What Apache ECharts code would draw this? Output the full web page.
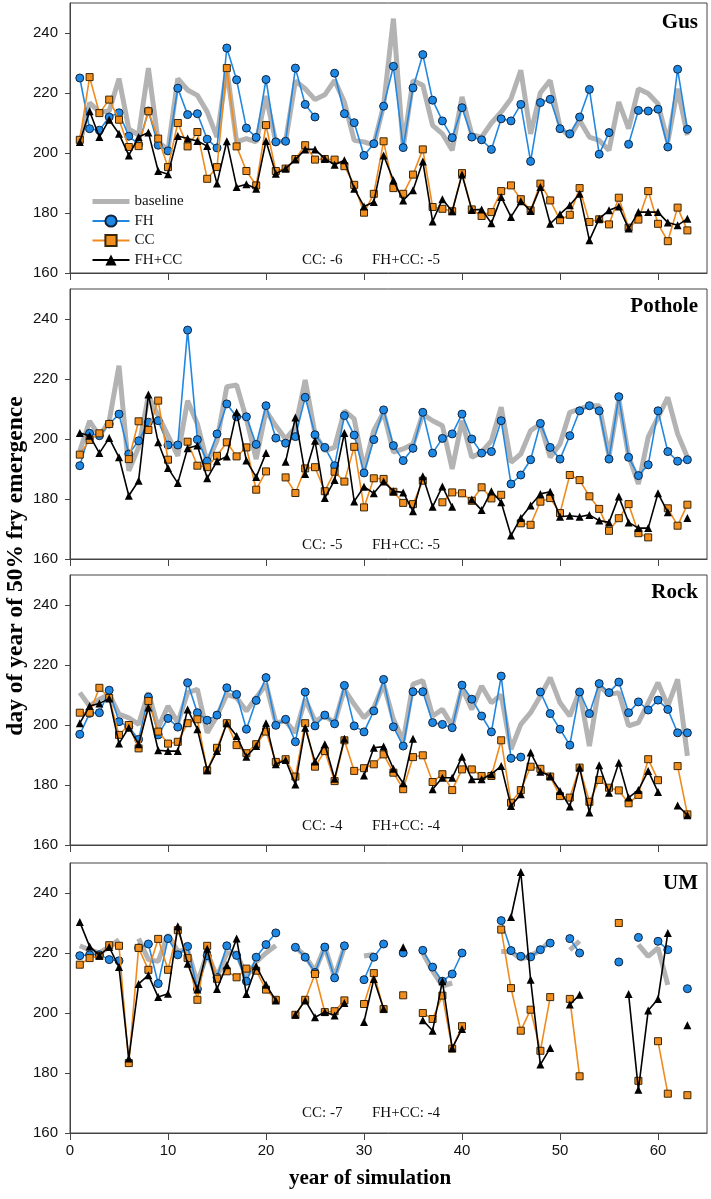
<!DOCTYPE html>
<html><head><meta charset="utf-8">
<script src="https://cdn.jsdelivr.net/npm/echarts@6/dist/echarts.min.js"></script>
<style>html,body{margin:0;padding:0;background:#fff}#c{width:711px;height:1199px}</style>
</head><body><div id="c"></div>
<script>
const years = [1,2,3,4,5,6,7,8,9,10,11,12,13,14,15,16,17,18,19,20,21,22,23,24,25,26,27,28,29,30,31,32,33,34,35,36,37,38,39,40,41,42,43,44,45,46,47,48,49,50,51,52,53,54,55,56,57,58,59,60,61,62,63];
const xTicks = [0,10,20,30,40,50,60];
const yTicks = [160,180,200,220,240];
const panelNames = ['Gus','Pothole','Rock','UM'];
const ccNotes = ['CC: -6','CC: -5','CC: -4','CC: -7'];
const fhccNotes = ['FH+CC: -5','FH+CC: -5','FH+CC: -4','FH+CC: -4'];

// ---- Gus ----
const gusBase = [203,216.7,213.7,214,224.8,208,206,228.3,203.7,201,224.8,221,219.2,213.7,205.3,228,203.7,204.8,203.7,219,203.7,204,224,221.4,217.8,219.4,224.2,217,204.2,203.7,202.6,215.9,244.8,202,224.2,222.6,209.2,206.4,200.9,218.7,206.1,205.3,210,213.7,218.1,227.6,206.4,220.1,224.2,208.7,205.3,210.9,205.3,204.2,200.9,217,208.1,221.4,219.8,216.4,203.7,221.4,205.9];
const gusFH = [225,208.1,207.6,212,213.4,205.6,202.9,214,202.6,200.7,221.6,212.8,213.1,204.6,201.7,235,224.4,208.3,205.2,224.5,203.7,203.9,228.3,216.2,212,null,226.6,213.1,210.1,199.2,203.1,215.6,228.9,201.8,221.7,232.8,217.6,210.7,205.1,215.1,205.3,204.4,201.2,211.4,210.7,216.2,197.2,216.8,217.9,208.1,206.4,212,221.2,199.6,206.8,null,202.9,214.2,214,214.6,202,227.9,207.9];
const gusCC = [204.4,225.3,213.3,217.8,211.1,202,202.3,213.9,204.8,195.3,210,202.2,207,191.4,195.3,228.3,202.2,194,189.2,209.3,194,194.8,198,202.6,197.8,198,197.8,195.6,189.4,180.1,186.4,203.9,188.3,186.4,192.8,201.2,182,181.4,180.6,193.3,181.2,179,180.3,187.3,189.2,184.6,180.9,189.8,184.2,177.6,179.4,188.3,177,177.9,176.2,185.1,175.1,177.8,187.3,176.4,170.6,181.8,174.2];
const gusFHCC = [203.7,213.9,205.3,211.1,206.4,199.2,205.3,206.8,194,192.9,205.7,204.8,204,202.3,189.8,203.9,188.7,189.6,188.1,204,193.1,194.8,197.8,201.2,201.2,198.1,196.1,197.6,188.1,182.2,183.7,199.2,190.9,184.2,187.6,197.2,177.2,184.6,180.6,192.8,181,181.2,176.6,185.3,178.7,183.9,180.7,188.7,176.4,179.6,182.6,186.4,170.9,178.1,180.9,182.2,174.8,180.3,180.3,180.3,176.8,175.9,178.1];

// ---- Pothole ----
const potBase = [196,206,201,206,224.4,189.4,197.2,214.4,207.8,201.1,194.4,212.8,205,192.2,199.4,217.4,218,206.7,193.3,209.4,204.4,200,203.9,219.7,201.7,196.1,197.2,209.4,206.7,190,202.8,208.9,195.6,196.7,198.3,208.3,206.1,204.4,190,206.1,193.9,195.6,199.4,210.6,192.2,195,202.8,205,193.9,198.3,208.9,210,211.1,211.1,194.4,213.3,194.4,185,200.6,207.2,213.9,201.7,193.9];
const potFH = [191.1,201.9,201.1,205,208.3,195,199.4,205.6,206.1,198,198,236.3,199.8,192.6,201.7,211.7,207.4,207.4,198.2,211.1,200.3,198.6,200.8,213.9,201.4,197.2,191.1,207.8,201.3,188.7,199.8,209.7,197.8,192.8,196.9,208.9,195.3,200.2,201.7,208.3,200,195.3,195.8,206.1,185,188,193.1,205.2,197.2,193.3,201.1,209.4,211.1,209.4,193.3,214.1,193.9,187.8,191.4,209.4,195.8,192.6,193.1];
const potCC = [194.8,199.7,201.9,205,null,193.3,205.9,203,212.8,193.1,null,199.1,191.1,190.6,194.4,198.9,194.2,197.2,183.1,189.2,null,187.2,182,190.2,190.6,182.6,189.1,185.8,197.4,177.2,186.9,186.7,182.4,178.7,178.3,186.1,null,178.9,182.2,181.9,179.4,183.9,180.2,181.4,null,171.9,171.4,179.1,180.3,175.3,188,186.3,180.9,176.7,169.4,173.6,178.3,168.6,167.2,null,176.9,171.1,178.1];
const potFHCC = [202,201.1,195.3,200.3,193.9,181.1,186.1,214.8,198.9,190.3,185.3,196.9,197.8,186.9,192.6,194.2,208.9,192.8,187.3,195.3,null,192.4,207.2,188.3,199.4,180.3,186.3,202,179.2,184.1,181.9,185.8,182.6,182.2,175.9,187.6,177.4,184.2,177.4,null,179.8,176.3,182.6,178.9,167.8,173.7,177.8,181.7,182.4,174.1,174.4,174.1,174.7,172.8,172.2,180.8,172.2,170.3,170.3,181.9,175.6,null,173.7];

// ---- Rock ----
const rockBase = [210.8,206.3,208.6,210.2,203.6,202.4,200.2,210.8,199.1,206.3,200.8,210.8,211.9,197.4,203,210.2,209.1,204.7,209.1,213.6,200.8,201.3,197.4,208.6,201.3,203,200.8,211.9,206.9,202.4,205.8,213.6,201.9,194.7,213.6,214.8,203,205.2,199.7,212.4,205.2,213,207.4,210,191.9,200.2,204.1,209.7,215.8,207.4,203,211.3,193,213,210.2,210.8,199.7,200.8,207.4,214.1,206.3,215.2,189.7];
const rockFH = [196.9,203.9,204.1,211.6,201.1,199.4,195.2,209.3,196.7,202.2,199.3,214.1,204.1,201.6,203.3,212.4,210.2,198.6,208.2,215.8,199.9,201.9,194.4,211,199.7,203.3,200.4,213.2,199.7,197.7,204.7,215.2,199.4,193,211.1,211.1,200.8,200.2,199.1,213.3,208.6,203,197.7,216.3,188.9,189.3,null,211,203.8,198.6,193.3,211,203.8,213.8,210.8,214.3,204.1,207.7,205,208.3,205.2,197.4,197.4];
const rockCC = [204.1,204.1,212.4,209,196.7,200,192.2,208,197.8,193.8,194.4,200.6,201.9,184.9,192.4,200.6,193.3,190.6,193.6,197.8,187.7,188.6,182.8,200.6,186.1,191.3,181.3,194.9,184.7,185.6,186.9,190.2,184.1,178.6,189.3,189.9,181,183.6,178.3,185.2,185.2,183,183,194.9,174.1,178.3,186.1,185.4,182.8,176.3,175.8,185.8,174.4,181.7,179.1,178.2,173.9,176.7,188.6,181.6,null,186.3,170.2];
const rockFHCC = [200.6,206.3,207.2,208.8,193.8,199.1,193.6,205.8,191.6,191.3,191.3,205.2,198.6,184.9,191.3,200.6,196.3,189.4,193,200.6,186.9,188.3,180.2,199.1,187.8,193.6,182.1,195.4,null,183.2,192.4,192.8,185.4,180.6,195.4,null,178.6,182.4,182.4,189.4,181.9,181.9,183.6,186.3,173,176.9,190.8,184.4,183,178,172.8,185.8,170.8,186.6,177.4,187.4,175.8,178.3,184.7,177.7,null,173.2,169.9];

// ---- UM ----
const umBase = [222.4,221,220,222,224.4,null,224.8,217.8,217.2,226.1,220.6,221,210,220,212,220,220,212,217,220,222.5,null,222,219,214,222,212,222,null,219,219.5,null,null,null,null,220,214,209,210,null,null,null,null,220.5,220.5,218,219,221,224,null,221,224,null,null,null,null,null,222.8,218.9,221.7,209.4,null,null];
const umFH = [219.1,219.4,219.4,217.8,217.4,null,221.7,223,209.8,224.8,219.4,222.2,208,219.1,211.9,222.4,219.2,210.6,218.6,222.8,226.7,null,221.9,218.6,213.5,222,211.7,222.4,null,211.1,218.6,223,null,220,null,220.9,215.3,210.6,213,220,null,null,null,230.8,220.8,218.9,218.7,221.1,223.3,null,224.8,220,null,null,null,217,null,225.2,null,223.9,221.1,null,208.1];
const umCC = [216.1,218.3,219,222.6,222.4,183.3,221.7,214.4,224.7,214.4,227.6,218.3,204.4,222.4,211.4,213.9,211.9,214.8,214.1,207.8,204.4,null,199.4,204.4,213,200.3,200.6,204.2,null,203,213.3,201.3,null,205.9,null,200,198,205.8,188.1,195.6,null,null,null,227.8,208.3,194.1,201.1,187.4,205.3,null,204.7,178.9,null,null,null,230,null,177.4,null,190.6,173.1,null,172.6];
const umFHCC = [230.3,222.2,219.2,222,215.3,184.8,209.7,212.6,205.3,206.4,228.9,216.4,207.8,221.4,208,215.9,224.8,206.3,215.6,209.4,204.2,null,199.4,204.2,198.6,200.3,199.2,203.3,null,197,211.3,201.4,null,221.9,null,197.6,194.1,210.6,188.3,194.7,null,null,null,null,232,247,211.1,182.8,188.3,null,202.8,206.1,null,null,null,null,206.3,174.4,200.8,204.7,226.7,null,195.9];

const panels = [
  [gusBase, gusFH, gusCC, gusFHCC],
  [potBase, potFH, potCC, potFHCC],
  [rockBase, rockFH, rockCC, rockFHCC],
  [umBase, umFH, umCC, umFHCC]
];

const tops = [3, 289, 575, 863];
const H = 270;
const noteY = [260, 545, 826, 1113];

const pair = arr => years.map((y, i) => [y, arr[i] === null ? '-' : arr[i]]);

const grids = [], xAxes = [], yAxes = [], series = [], graphics = [];
tops.forEach((t, i) => {
  grids.push({left: 70, right: 4, top: t, height: H, show: true, borderColor: '#444', borderWidth: 1, backgroundColor: 'transparent'});
  xAxes.push({
    type: 'value', gridIndex: i, min: 0, max: 65,
    axisLine: {show: true, lineStyle: {color: '#444', width: 1}},
    axisTick: {show: true, inside: false, length: 7, customValues: xTicks, lineStyle: {color: '#444'}},
    axisLabel: {show: i === 3, customValues: xTicks, margin: 10, fontFamily: 'Liberation Sans', fontSize: 15, color: '#111'},
    splitLine: {show: false}
  });
  yAxes.push({
    type: 'value', gridIndex: i, min: 160, max: 250,
    axisLine: {show: true, lineStyle: {color: '#444', width: 1}},
    axisTick: {show: true, length: 5, customValues: yTicks, lineStyle: {color: '#444'}},
    axisLabel: {customValues: yTicks, margin: 12, fontFamily: 'Liberation Sans', fontSize: 15, color: '#111'},
    splitLine: {show: false}
  });
  const [b, fh, cc, fc] = panels[i];
  series.push({name: 'baseline', type: 'line', xAxisIndex: i, yAxisIndex: i, data: pair(b), symbol: 'none',
    lineStyle: {color: '#b3b3b3', width: 5}, itemStyle: {color: '#b3b3b3'}, z: 2, animation: false});
  series.push({name: 'FH', type: 'line', xAxisIndex: i, yAxisIndex: i, data: pair(fh), symbol: 'circle', symbolSize: 8, showSymbol: true,
    lineStyle: {color: '#2287e0', width: 1.6}, itemStyle: {color: '#1e88e5', borderColor: '#10243f', borderWidth: 1}, z: 3, animation: false});
  series.push({name: 'CC', type: 'line', xAxisIndex: i, yAxisIndex: i, data: pair(cc), symbol: 'rect', symbolSize: 7, showSymbol: true,
    lineStyle: {color: '#f08a1c', width: 1.6}, itemStyle: {color: '#f28e1e', borderColor: '#3a2608', borderWidth: 1}, z: 4, animation: false});
  series.push({name: 'FH+CC', type: 'line', xAxisIndex: i, yAxisIndex: i, data: pair(fc), symbol: 'triangle', symbolSize: 8, showSymbol: true,
    lineStyle: {color: '#000', width: 1.6}, itemStyle: {color: '#000'}, z: 5, animation: false});

  graphics.push({type: 'text', x: 698, y: t + (i === 0 ? 20 : (i === 3 ? 21 : 18)),
    style: {text: panelNames[i], font: 'bold 21px "Liberation Serif"', fill: '#000', align: 'right', verticalAlign: 'middle'}});
  graphics.push({type: 'text', x: 302, y: noteY[i],
    style: {text: ccNotes[i], font: '15px "Liberation Serif"', fill: '#111', align: 'left', verticalAlign: 'middle'}});
  graphics.push({type: 'text', x: 372, y: noteY[i],
    style: {text: fhccNotes[i], font: '15px "Liberation Serif"', fill: '#111', align: 'left', verticalAlign: 'middle'}});
});

graphics.push({type: 'text', x: 16, y: 566, rotation: Math.PI / 2,
  style: {text: 'day of year of 50% fry emergence', font: 'bold 23.5px "Liberation Serif"', fill: '#000', align: 'center', verticalAlign: 'middle'}});
graphics.push({type: 'text', x: 370, y: 1179,
  style: {text: 'year of simulation', font: 'bold 21px "Liberation Serif"', fill: '#000', align: 'center', verticalAlign: 'middle'}});

const chart = echarts.init(document.getElementById('c'), null, {renderer: 'canvas'});
chart.setOption({
  animation: false,
  backgroundColor: '#fff',
  grid: grids, xAxis: xAxes, yAxis: yAxes, series: series,
  legend: {
    data: [{name: 'baseline', itemStyle: {opacity: 0}, lineStyle: {width: 5, color: '#b3b3b3'}}, 'FH', 'CC', 'FH+CC'],
    orient: 'vertical', left: 85, top: 189,
    itemWidth: 37, itemHeight: 14, itemGap: 4.5, selectedMode: false,
    textStyle: {fontFamily: 'Liberation Serif', fontSize: 15, color: '#111'}
  },
  graphic: graphics
});
</script></body></html>
